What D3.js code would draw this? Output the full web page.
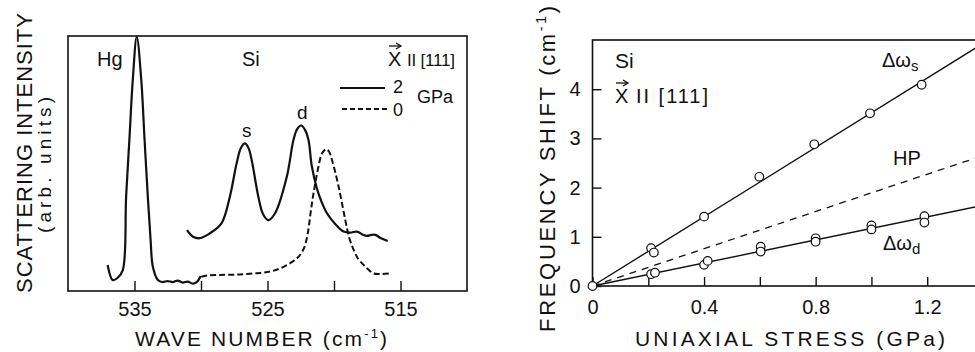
<!DOCTYPE html>
<html>
<head>
<meta charset="utf-8">
<script src="https://cdn.jsdelivr.net/npm/d3@7"></script>
<style>
  body { margin: 0; background: #fff; }
  svg { display: block; font-family: "Liberation Sans", Arial, sans-serif; }
  text { fill: #111; }
</style>
</head>
<body>
<svg width="975" height="352"></svg>
<script>
// Espectros Raman (onda em cm-1, intensidade em unidades arbitrarias 0-100)
var espectroHg = [[537.02,10.2],[536.64,4.3],[536.28,5.1],[535.88,8.2],[535.63,37.0],[535.38,59.8],
                  [535.13,82.7],[534.83,99.7],[534.49,82.7],[534.25,60.0],[534.0,37.0],[533.79,20.0],
                  [533.62,9.5],[533.24,4.3],[532.89,3.5],[532.51,3.9],[532.13,3.5],[531.75,4.1],
                  [531.38,3.3],[531.0,3.7],[530.62,2.9],[530.32,3.5],[530.02,5.9]];
var espectroSi2 = [[531.05,23.9],[530.6,21.3],[530.09,20.7],[529.34,22.6],[528.46,26.5],[527.83,37.0],
                   [527.32,50.1],[527.0,56.1],[526.7,57.9],[526.43,56.1],[526.19,51.4],[525.69,37.0],
                   [525.34,30.2],[524.94,27.8],[524.43,30.5],[523.55,44.8],[523.05,59.2],[522.77,63.5],
                   [522.47,64.9],[522.17,63.1],[521.92,59.2],[521.66,48.7],[521.29,40.3],[520.96,35.3],
                   [520.53,30.5],[519.91,26.3],[519.28,23.3],[518.77,22.9],[518.27,23.3],[517.87,22.2],
                   [517.52,21.6],[517.19,22.0],[516.89,22.0],[516.51,20.8],[515.96,19.6]];
var espectroSi0 = [[529.97,5.6],[529.57,6.1],[528.58,6.3],[527.08,6.5],[525.57,7.1],[524.66,7.8],
                   [523.91,9.2],[523.15,11.4],[522.62,13.7],[522.25,16.9],[521.98,22.4],[521.75,31.0],
                   [521.54,38.3],[521.17,48.7],[520.89,54.1],[520.58,55.6],[520.36,54.5],[520.15,51.4],
                   [519.65,40.9],[519.15,27.8],[518.85,20.8],[518.52,16.1],[518.17,12.5],[517.77,10.2],
                   [517.42,8.4],[517.02,6.9],[516.51,6.7],[515.75,6.9]];

var ticksOnda = [535, 530, 525, 520, 515];
var rotulosOnda = [535, 525, 515];

// Deslocamento de frequencia x tensao uniaxial (GPa, cm-1)
var pontosS = [[0,0],[0.21,0.77],[0.22,0.68],[0.40,1.41],[0.598,2.22],[0.795,2.88],[0.995,3.51],[1.18,4.09]];
var pontosD = [[0.21,0.24],[0.224,0.27],[0.40,0.43],[0.413,0.51],[0.603,0.80],[0.603,0.70],
               [0.80,0.97],[0.80,0.90],[1.0,1.23],[1.0,1.15],[1.19,1.42],[1.19,1.29]];
var retaS = [[0,0],[1.4,4.93]];
var retaHP = [[0,0],[1.4,2.65]];
var retaD = [[0,0],[1.4,1.64]];

var ticksTensao = [0.2, 0.4, 0.6, 0.8, 1.0, 1.2];
var rotulosTensao = [0, 0.4, 0.8, 1.2];
var ticksDesloc = [0, 1, 2, 3, 4];

var svg = d3.select("svg");
var cor = "#111";

/*
 * Painel esquerdo: espectro
 */
var xOnda = d3.scaleLinear().domain([540, 510]).range([68, 467]);
var yInt = d3.scaleLinear().domain([0, 100]).range([291, 36]);

var esq = svg.append("g").attr("class", "espectro");

esq.append("rect")
    .attr("x", xOnda(540)).attr("y", yInt(100))
    .attr("width", xOnda(510) - xOnda(540))
    .attr("height", yInt(0) - yInt(100))
    .attr("fill", "none").attr("stroke", cor).attr("stroke-width", 1.6);

var eixoOnda = esq.append("g")
    .attr("transform", "translate(0," + yInt(0) + ")")
    .call(d3.axisBottom(xOnda)
      .tickValues(ticksOnda)
      .tickSize(-10)
      .tickPadding(11)
      .tickFormat(function(d){ return rotulosOnda.indexOf(d) >= 0 ? d : ""; }));
eixoOnda.select(".domain").remove();
eixoOnda.selectAll("line").attr("stroke", cor).attr("stroke-width", 1.4);
eixoOnda.selectAll("text").attr("font-size", 20).attr("fill", cor).attr("font-family", null);

var linha = d3.line()
    .x(function(d){ return xOnda(d[0]); })
    .y(function(d){ return yInt(d[1]); })
    .curve(d3.curveCatmullRom.alpha(0.5));

esq.append("path").datum(espectroHg)
    .attr("d", linha).attr("fill", "none").attr("stroke", cor).attr("stroke-width", 2.2);
esq.append("path").datum(espectroSi2)
    .attr("d", linha).attr("fill", "none").attr("stroke", cor).attr("stroke-width", 2.2);
esq.append("path").datum(espectroSi0)
    .attr("d", linha).attr("fill", "none").attr("stroke", cor).attr("stroke-width", 2)
    .attr("stroke-dasharray", "6,3");

// rotulos do painel esquerdo
esq.append("text").attr("x", 97).attr("y", 66).attr("font-size", 20).text("Hg");
esq.append("text").attr("x", 242).attr("y", 66).attr("font-size", 20).text("Si");
esq.append("text").attr("x", 242).attr("y", 137).attr("font-size", 19).text("s");
esq.append("text").attr("x", 297).attr("y", 119).attr("font-size", 19).text("d");
vetorX(esq, 388, 66);
esq.append("text").attr("x", 407).attr("y", 66).attr("font-size", 17)
    .attr("textLength", 48).attr("lengthAdjust", "spacing").text("II [111]");

// legenda de pressao
esq.append("line").attr("x1", 340).attr("x2", 385).attr("y1", 88).attr("y2", 88)
    .attr("stroke", cor).attr("stroke-width", 2);
esq.append("line").attr("x1", 342).attr("x2", 387).attr("y1", 109).attr("y2", 109)
    .attr("stroke", cor).attr("stroke-width", 2).attr("stroke-dasharray", "5,3");
esq.append("text").attr("x", 393).attr("y", 93).attr("font-size", 18).text("2");
esq.append("text").attr("x", 393).attr("y", 116).attr("font-size", 18).text("0");
esq.append("text").attr("x", 417).attr("y", 103).attr("font-size", 18).text("GPa");

// titulos dos eixos
var tituloOnda = esq.append("text")
    .attr("x", 261).attr("y", 346)
    .attr("text-anchor", "middle").attr("font-size", 21)
    .attr("textLength", 252).attr("lengthAdjust", "spacing");
tituloOnda.append("tspan").text("WAVE NUMBER  (cm");
tituloOnda.append("tspan").attr("dy", -8).attr("font-size", 13).text("-1");
tituloOnda.append("tspan").attr("dy", 8).text(")");

esq.append("text")
    .attr("transform", "translate(32,153) rotate(-90)")
    .attr("text-anchor", "middle").attr("font-size", 22)
    .attr("textLength", 280).attr("lengthAdjust", "spacing")
    .text("SCATTERING INTENSITY");
esq.append("text")
    .attr("transform", "translate(51,165) rotate(-90)")
    .attr("text-anchor", "middle").attr("font-size", 19)
    .attr("textLength", 136).attr("lengthAdjust", "spacing")
    .text("(arb. units)");

/*
 * Painel direito: deslocamento x tensao
 */
var xTensao = d3.scaleLinear().domain([0, 1.4]).range([592.5, 983]);
var yDesloc = d3.scaleLinear().domain([0, 5]).range([286, 40]);

var dir = svg.append("g").attr("class", "tensao");

dir.append("rect")
    .attr("x", xTensao(0)).attr("y", yDesloc(5))
    .attr("width", xTensao(1.4) - xTensao(0))
    .attr("height", yDesloc(0) - yDesloc(5))
    .attr("fill", "none").attr("stroke", cor).attr("stroke-width", 1.6);

var eixoTensao = dir.append("g")
    .attr("transform", "translate(0," + yDesloc(0) + ")")
    .call(d3.axisBottom(xTensao)
      .tickValues([0].concat(ticksTensao))
      .tickSize(-9)
      .tickPadding(14)
      .tickFormat(function(d){ return rotulosTensao.indexOf(d) >= 0 ? d3.format(".1~f")(d) : ""; }));
eixoTensao.select(".domain").remove();
eixoTensao.selectAll("line").attr("stroke", cor).attr("stroke-width", 1.4);
eixoTensao.selectAll("text").attr("font-size", 20).attr("fill", cor).attr("font-family", null);

var eixoDesloc = dir.append("g")
    .attr("transform", "translate(" + xTensao(0) + ",0)")
    .call(d3.axisLeft(yDesloc)
      .tickValues(ticksDesloc)
      .tickSize(-9)
      .tickPadding(12)
      .tickFormat(d3.format("d")));
eixoDesloc.select(".domain").remove();
eixoDesloc.selectAll("line").attr("stroke", cor).attr("stroke-width", 1.4);
eixoDesloc.selectAll("text").attr("font-size", 20).attr("fill", cor).attr("font-family", null);

var reta = d3.line()
    .x(function(d){ return xTensao(d[0]); })
    .y(function(d){ return yDesloc(d[1]); });

dir.append("path").datum(retaS)
    .attr("d", reta).attr("stroke", cor).attr("stroke-width", 1.4).attr("fill", "none");
dir.append("path").datum(retaHP)
    .attr("d", reta).attr("stroke", cor).attr("stroke-width", 1.3).attr("fill", "none")
    .attr("stroke-dasharray", "7,6");
dir.append("path").datum(retaD)
    .attr("d", reta).attr("stroke", cor).attr("stroke-width", 1.4).attr("fill", "none");

dir.selectAll("circle.pts")
    .data(pontosS.concat(pontosD))
    .enter().append("circle")
      .attr("class", "pts")
      .attr("cx", function(d){ return xTensao(d[0]); })
      .attr("cy", function(d){ return yDesloc(d[1]); })
      .attr("r", 4.3)
      .attr("fill", "#fff").attr("stroke", cor).attr("stroke-width", 1.2);

// rotulos do painel direito
dir.append("text").attr("x", 615).attr("y", 68).attr("font-size", 21).text("Si");
vetorX(dir, 615, 103);
dir.append("text").attr("x", 636).attr("y", 103).attr("font-size", 20)
    .attr("textLength", 72).attr("lengthAdjust", "spacing").text("II [111]");

var rotS = dir.append("text").attr("x", 882).attr("y", 67).attr("font-size", 20);
rotS.append("tspan").text("\u0394\u03c9");
rotS.append("tspan").attr("dy", 4).attr("font-size", 15).text("s");
dir.append("text").attr("x", 893).attr("y", 165).attr("font-size", 20).text("HP");
var rotD = dir.append("text").attr("x", 883).attr("y", 250).attr("font-size", 20);
rotD.append("tspan").text("\u0394\u03c9");
rotD.append("tspan").attr("dy", 4).attr("font-size", 15).text("d");

dir.append("text")
    .attr("x", 790).attr("y", 346)
    .attr("text-anchor", "middle").attr("font-size", 21)
    .attr("textLength", 310).attr("lengthAdjust", "spacing")
    .text("UNIAXIAL  STRESS  (GPa)");

var tituloDesloc = dir.append("text")
    .attr("transform", "translate(555,169) rotate(-90)")
    .attr("text-anchor", "middle").attr("font-size", 22)
    .attr("textLength", 326).attr("lengthAdjust", "spacing");
tituloDesloc.append("tspan").text("FREQUENCY  SHIFT  (cm");
tituloDesloc.append("tspan").attr("dy", -9).attr("font-size", 14).text("-1");
tituloDesloc.append("tspan").attr("dy", 9).text(")");

/*
 * Desenha um X com a seta de vetor por cima
 */
function vetorX(g, x, y) {
  g.append("text").attr("x", x).attr("y", y).attr("font-size", 20).text("X");
  g.append("line")
    .attr("x1", x + 1).attr("x2", x + 12).attr("y1", y - 20).attr("y2", y - 20)
    .attr("stroke", cor).attr("stroke-width", 1.3);
  g.append("path")
    .attr("d", "M" + (x + 8) + "," + (y - 23) + "L" + (x + 13) + "," + (y - 20) + "L" + (x + 8) + "," + (y - 17))
    .attr("fill", "none").attr("stroke", cor).attr("stroke-width", 1.3);
}
</script>
</body>
</html>
